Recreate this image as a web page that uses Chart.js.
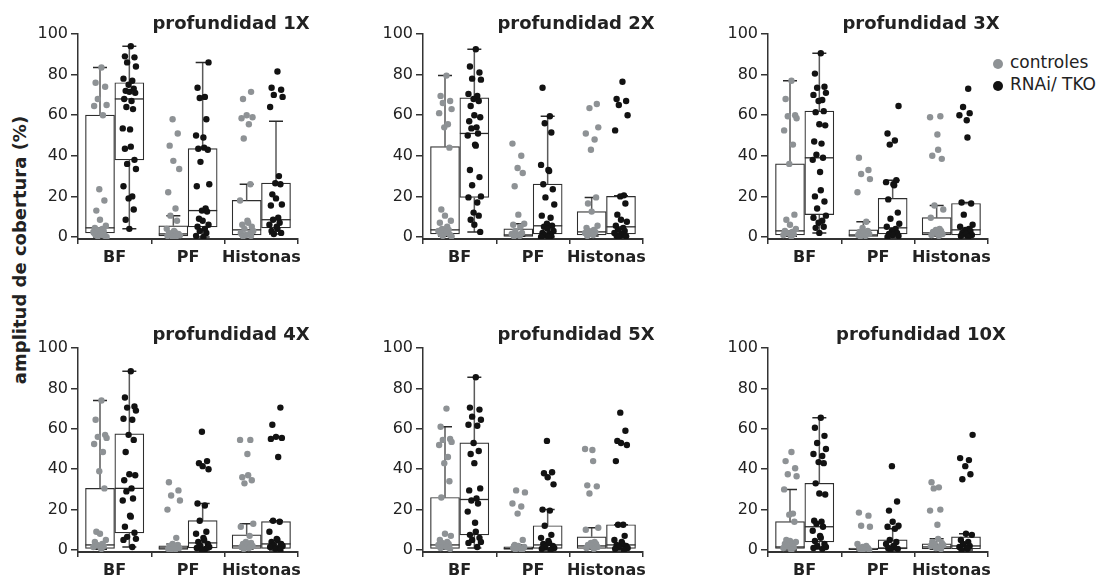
<!DOCTYPE html>
<html>
<head>
<meta charset="utf-8">
<script src="https://cdn.jsdelivr.net/npm/chart.js@4"></script>
<style>
  body { margin: 0; background: #fff; width: 1118px; height: 580px; position: relative; overflow: hidden;
         font-family: "DejaVu Sans", sans-serif; color: #222; }
  canvas { position: absolute; }
  .ptitle { position: absolute; font-weight: bold; font-size: 18px; white-space: nowrap; transform: translate(-50%, -50%); }
  #ytitle { position: absolute; left: 19px; top: 250px; font-weight: bold; font-size: 18px; white-space: nowrap;
            transform: translate(-50%, -50%) rotate(-90deg); }
  .legend { position: absolute; left: 993px; font-size: 17px; white-space: nowrap; line-height: 20px; }
  .legend span { display: inline-block; width: 10px; height: 10px; border-radius: 50%; margin-right: 7px; vertical-align: -1px; }
</style>
</head>
<body>
<div id="ytitle">amplitud de cobertura (%)</div>
<div class="legend" style="top:52px"><span style="background:#8e9295"></span>controles</div>
<div class="legend" style="top:74px"><span style="background:#121212"></span>RNAi/ TKO</div>

<script>
// categories and axis
const categories = ['BF', 'PF', 'Histonas'];
const yTicks = [0, 20, 40, 60, 80, 100];
const panelTitles = ['profundidad 1X', 'profundidad 2X', 'profundidad 3X',
                     'profundidad 4X', 'profundidad 5X', 'profundidad 10X'];

// box stats per category: [lower whisker, q1, median, q3, upper whisker]
const ctlBox1 = [[0, 2, 4.5, 60, 83.5], [0, 0.5, 1.5, 5.5, 10.5], [0.3, 1, 3.5, 18, 26]];
const tkoBox1 = [[4, 38, 68, 76, 94], [0, 5, 13, 43.5, 86], [1.5, 4.5, 8.5, 26.5, 57]];
const ctlBox2 = [[0.3, 1.5, 3.5, 44.5, 79.5], [0.3, 0.3, 1, 4, 6.5], [0.5, 1, 2.5, 12.5, 19.5]];
const tkoBox2 = [[2.5, 19.5, 51, 68.5, 92.5], [0, 1.5, 5.5, 26, 59.5], [0, 1.5, 5, 20, 20.3]];
const ctlBox3 = [[0.3, 1, 3, 36, 77], [0.3, 0.3, 1, 3.5, 7.5], [0.5, 1, 2, 9.5, 15.5]];
const tkoBox3 = [[2, 11, 39, 62, 90.5], [0, 1.5, 4.5, 19, 28], [0, 1, 3.5, 16.5, 17]];
const ctlBox4 = [[0.3, 0.8, 2.5, 30.5, 74], [0, 0.3, 1, 2, 3], [0.5, 0.8, 2, 7.5, 13]];
const tkoBox4 = [[1.5, 8.5, 30.5, 57.5, 88.5], [0, 1, 3.5, 14.5, 23], [0, 0.8, 3, 14, 14.5]];
const ctlBox5 = [[0.3, 0.8, 2.5, 26, 61], [0, 0.3, 0.8, 1.5, 2.5], [0.5, 0.8, 2, 6.5, 11]];
const tkoBox5 = [[1, 7.5, 25, 53, 85.5], [0, 0.8, 2.5, 12, 20], [0, 0.8, 2.5, 12.5, 12.5]];
const ctlBox6 = [[0, 0.8, 1.5, 14, 30], [0, 0.2, 0.5, 1, 1.5], [0.3, 0.5, 1.5, 3, 5.5]];
const tkoBox6 = [[0.5, 4, 11.5, 33, 65.5], [0, 0.5, 1, 5, 10.5], [0, 0.5, 2, 6.5, 8]];

// individual samples per category (BF, PF, Histonas)
const ctlPts1 = [
  [83.5, 76, 74, 68, 65, 64.5, 60, 23.5, 18, 13, 8.5, 5.5, 4.5, 4, 3.5, 3, 2.5, 2, 1.5, 1, 0.5, 0.3, 0, 2, 1],
  [58, 51, 45, 37.5, 33.5, 22, 14, 10.5, 8, 4, 3, 2.5, 2, 1.5, 1, 0.8, 0.5, 0.3, 0],
  [71.5, 68, 60, 59, 58.5, 55.5, 48.5, 26, 18, 8, 7, 6, 5, 4, 3, 2, 1.5, 1, 0.5, 0.3]];
const tkoPts1 = [
  [94, 89, 88.5, 86, 84, 78, 77, 75, 73, 72, 71.5, 71, 68, 67, 64, 63, 53.5, 53, 44.5, 43.5, 38, 36, 33.5, 25, 20, 19, 13.5, 8.5, 4],
  [86, 73.5, 69, 68.5, 58, 50, 49, 44, 43.5, 43, 37, 26, 25, 14, 13, 12.5, 9, 8, 6, 5, 4, 3, 2, 0.5, 0],
  [81.5, 73.5, 72.5, 70, 69, 64, 30, 26.5, 26, 21, 19, 16, 15.5, 9.5, 8.5, 7, 6, 5, 4, 3, 2, 1.5]];
const ctlPts2 = [
  [79.5, 69.5, 67, 66, 63, 61, 55.5, 54, 44, 13.5, 10.5, 8, 7, 5, 4, 3.5, 3, 2.5, 2, 1.5, 1, 0.5, 0.3],
  [46, 40, 34, 31.5, 25, 11, 6.5, 6, 5, 3, 2, 1.5, 1, 0.5, 0.3],
  [65.5, 63.5, 54, 51, 48, 43, 19.5, 16.5, 12.5, 5.5, 4.5, 3.5, 3, 2.5, 2, 1.5, 1, 0.5]];
const tkoPts2 = [
  [92.5, 84, 81, 78, 77.5, 70.5, 69.5, 68, 67, 64.5, 60, 59, 57, 54, 53.5, 51, 50, 45.5, 45, 33, 29.5, 25.5, 20, 19.5, 17, 12, 10.5, 8.5, 6, 2.5],
  [73.5, 59.5, 56, 51.5, 35.5, 33, 32.5, 26, 23.5, 19.5, 16, 10.5, 9.5, 6.5, 5.5, 5, 4, 3, 2, 1.5, 1, 0.5, 0, 0],
  [76.5, 68, 67, 65, 60, 52.5, 20.5, 20, 16.5, 11, 8.5, 7.5, 5.5, 4.5, 3.5, 3, 2, 1.5, 1, 0.5, 0.3, 0]];
const ctlPts3 = [
  [77, 68, 60, 59.5, 58.5, 52.5, 45.5, 36, 11, 8.5, 6, 4, 3, 2.5, 2, 1.5, 1, 0.5, 0.3],
  [39, 33, 31, 28.5, 22, 7.5, 4.5, 3, 2.5, 2, 1.5, 1, 0.5, 0.3],
  [59.5, 59, 50.5, 43, 40, 38.5, 15.5, 13.5, 9.5, 4, 3.5, 3, 2.5, 2, 1.5, 1, 0.5]];
const tkoPts3 = [
  [90.5, 80.5, 74, 73.5, 71, 70, 67.5, 67, 62, 61.5, 55.5, 55, 47, 46, 40.5, 39, 38, 32, 23, 20, 17.5, 14, 10.5, 9.5, 8, 7, 5, 4.5, 2],
  [64.5, 51, 47.5, 45.5, 28, 27, 26, 25.5, 18.5, 12, 9, 6.5, 5, 4, 3, 2, 1.5, 1, 0.5, 0],
  [73, 64, 61, 60, 57.5, 49, 17, 16.5, 11, 6, 5, 4, 3.5, 3, 2, 1.5, 1, 0.5, 0]];
const ctlPts4 = [
  [74, 64.5, 57, 56, 55.5, 52.5, 48.5, 39, 30.5, 9, 8, 5, 4, 3, 2.5, 2, 1.5, 1, 0.5],
  [33.5, 29.5, 27, 24.5, 20, 6, 3, 2.5, 2, 1.5, 1, 0.5, 0.3, 0],
  [54.5, 54.5, 47.5, 37, 36, 34.5, 33, 13, 11.5, 7, 4, 3.5, 3, 2.5, 2, 1.5, 1, 0.5]];
const tkoPts4 = [
  [88.5, 75.5, 71, 70.5, 69, 65, 64.5, 57, 54.5, 48.5, 37.5, 37, 34.5, 30.5, 29, 25.5, 24.5, 17, 16.5, 11.5, 8.5, 6.5, 5.5, 5, 1.5],
  [58.5, 44, 43, 41.5, 40, 23, 22, 14.5, 9, 8, 6, 5, 4, 3, 2, 1.5, 1, 0.5, 0],
  [70.5, 62, 56, 55.5, 55, 46, 14.5, 14, 9, 5.5, 5, 4, 3, 2.5, 2, 1.5, 1, 0.5, 0]];
const ctlPts5 = [
  [70, 61, 55, 54.5, 53.5, 52, 46, 43, 34, 26, 8, 7, 5, 4, 3.5, 3, 2.5, 2, 1.5, 1, 0.5],
  [29.5, 28.5, 23, 21.5, 18, 5, 2.5, 2, 1.5, 1, 0.5, 0.3, 0],
  [50, 49.5, 44, 32, 31.5, 28, 11, 10, 4, 3.5, 3, 2.5, 2, 1.5, 1, 0.5]];
const tkoPts5 = [
  [85.5, 70.5, 69.5, 66, 64.5, 62, 61.5, 53, 49, 47.5, 43, 30.5, 29.5, 25.5, 24.5, 23, 19, 13.5, 9, 7.5, 6, 5, 4, 3.5, 1.5],
  [54, 38.5, 38, 36, 32.5, 20, 19.5, 12, 7.5, 6, 4.5, 3.5, 3, 2, 1.5, 1, 0.5, 0],
  [68, 59, 54, 53, 52, 44, 12.5, 12.5, 7, 5, 4, 3, 2.5, 2, 1.5, 1, 0.5, 0]];
const ctlPts6 = [
  [48.5, 44, 40.5, 37.5, 36.5, 30, 18, 17.5, 14, 5, 4.5, 4, 3, 2.5, 2, 1.5, 1, 0.5, 0],
  [18.5, 17, 12, 11.5, 3, 2, 1.5, 1, 0.5, 0.3, 0],
  [33.5, 31, 30.5, 20, 19.5, 12.5, 5.5, 4, 3.5, 3, 2.5, 2, 1.5, 1, 0.5]];
const tkoPts6 = [
  [65.5, 60.5, 56.5, 53, 50, 47.5, 46.5, 43.5, 43, 33, 28, 27.5, 14.5, 14, 13, 11.5, 9.5, 7, 6, 4.5, 3, 2, 1.5, 1, 0.5],
  [41.5, 24, 19.5, 14, 12, 11.5, 10.5, 5, 4, 3, 2, 1.5, 1, 0.5, 0],
  [57, 45.5, 44.5, 41.5, 37.5, 35, 8, 7.5, 5, 4, 3, 2, 1.5, 1, 0.5, 0]];

// styling
const GREY = '#8e9295';
const BLACK = '#121212';
const FONT = 'DejaVu Sans';
const SHIFT = 0.2;      // box offset from the category centre, in category widths
// horizontal spread of the dots (in category widths), repeated
const spread = [0.02, -0.06, 0.07, -0.03, 0.09, -0.08, 0.04, -0.01, 0.06, -0.05, 0.0, 0.08, -0.07, 0.03, -0.04, 0.05, -0.09, 0.01];

const panels = [
  { title: panelTitles[0], ctlBox: ctlBox1, tkoBox: tkoBox1, ctlPts: ctlPts1, tkoPts: tkoPts1 },
  { title: panelTitles[1], ctlBox: ctlBox2, tkoBox: tkoBox2, ctlPts: ctlPts2, tkoPts: tkoPts2 },
  { title: panelTitles[2], ctlBox: ctlBox3, tkoBox: tkoBox3, ctlPts: ctlPts3, tkoPts: tkoPts3 },
  { title: panelTitles[3], ctlBox: ctlBox4, tkoBox: tkoBox4, ctlPts: ctlPts4, tkoPts: tkoPts4 },
  { title: panelTitles[4], ctlBox: ctlBox5, tkoBox: tkoBox5, ctlPts: ctlPts5, tkoPts: tkoPts5 },
  { title: panelTitles[5], ctlBox: ctlBox6, tkoBox: tkoBox6, ctlPts: ctlPts6, tkoPts: tkoPts6 }
];

// medians and whiskers on top of each box
const whiskerPlugin = {
  id: 'whiskers',
  afterDatasetDraw(chart, args) {
    const ds = chart.data.datasets[args.index];
    if (!ds.stats) return;
    const ctx = chart.ctx;
    const y = chart.scales.y;
    ctx.save();
    args.meta.data.forEach((bar, i) => {
      const [lo, q1, med, q3, hi] = ds.stats[i];
      const x = bar.x, half = bar.width / 2;
      ctx.lineWidth = 1.5;
      ctx.strokeStyle = '#5a5a5a';
      ctx.beginPath();
      ctx.moveTo(x, y.getPixelForValue(q3)); ctx.lineTo(x, y.getPixelForValue(hi));
      ctx.moveTo(x, y.getPixelForValue(q1)); ctx.lineTo(x, y.getPixelForValue(lo));
      ctx.stroke();
      ctx.strokeStyle = '#2a2a2a';
      ctx.beginPath();
      ctx.moveTo(x - 7, y.getPixelForValue(hi)); ctx.lineTo(x + 7, y.getPixelForValue(hi));
      ctx.moveTo(x - 7, y.getPixelForValue(lo)); ctx.lineTo(x + 7, y.getPixelForValue(lo));
      ctx.stroke();
      ctx.lineWidth = 1.3;
      ctx.beginPath();
      ctx.moveTo(x - half, y.getPixelForValue(med)); ctx.lineTo(x + half, y.getPixelForValue(med));
      ctx.stroke();
    });
    ctx.restore();
  }
};

function boxes(stats, shift) {
  return stats.map((s, c) => ({ x: c + shift, y: [s[1], s[3]] }));
}

function dots(ptsByCat, shift) {
  const out = [];
  let k = 0;
  ptsByCat.forEach((vals, c) => {
    vals.forEach(v => {
      out.push({ x: c + shift + spread[k % spread.length], y: v });
      k++;
    });
  });
  return out;
}

function makePanel(p, idx) {
  const row = Math.floor(idx / 3), col = idx % 3;
  const left = col * 345;
  const top = row === 0 ? 0 : 290;
  const h = row === 0 ? 280 : 290;
  const padTop = row === 0 ? 34 : 58;
  const xHeight = row === 0 ? 41 : 28;

  const cv = document.createElement('canvas');
  cv.width = 308; cv.height = h;
  cv.style.left = left + 'px'; cv.style.top = top + 'px';
  document.body.appendChild(cv);

  const t = document.createElement('div');
  t.className = 'ptitle';
  t.textContent = p.title;
  t.style.left = (left + 231) + 'px';
  t.style.top = (row === 0 ? 22 : 333) + 'px';
  document.body.appendChild(t);

  const boxStyle = { backgroundColor: '#fff', borderColor: '#2e2e2e', borderWidth: 1.2, borderSkipped: false,
                     barThickness: 29, grouped: false, order: 3 };

  new Chart(cv.getContext('2d'), {
    type: 'bar',
    data: {
      datasets: [
        Object.assign({ label: 'controles', data: boxes(p.ctlBox, -SHIFT), stats: p.ctlBox }, boxStyle),
        Object.assign({ label: 'RNAi/ TKO', data: boxes(p.tkoBox, SHIFT), stats: p.tkoBox }, boxStyle),
        { type: 'scatter', label: 'controles', data: dots(p.ctlPts, -SHIFT),
          backgroundColor: GREY, borderWidth: 0, pointRadius: 3.2, order: 1 },
        { type: 'scatter', label: 'RNAi/ TKO', data: dots(p.tkoPts, SHIFT),
          backgroundColor: BLACK, borderWidth: 0, pointRadius: 3.2, order: 1 }
      ]
    },
    options: {
      responsive: false,
      animation: false,
      layout: { padding: { top: padTop, right: 10, left: 0, bottom: 0 } },
      plugins: { legend: { display: false }, tooltip: { enabled: false } },
      scales: {
        x: {
          type: 'linear', min: -0.5, max: 2.5, offset: false,
          afterBuildTicks(s) { s.ticks = categories.map((c, i) => ({ value: i })); },
          grid: { drawOnChartArea: false, drawTicks: true, tickLength: 5, color: '#333', lineWidth: 1.5 },
          border: { color: '#333', width: 2 },
          ticks: { font: { family: FONT, size: 16, weight: 'bold' }, color: '#222', padding: 4, maxRotation: 0,
                   autoSkip: false, callback: v => categories[v] },
          afterFit(s) { s.height = xHeight; }
        },
        y: {
          min: -1, max: 100,
          afterBuildTicks(s) { s.ticks = yTicks.map(v => ({ value: v })); },
          grid: { drawOnChartArea: false, tickLength: 7, color: '#333', lineWidth: 1.5 },
          border: { color: '#333', width: 1.5 },
          ticks: { font: { family: FONT, size: 16 }, color: '#222', padding: 3 },
          afterFit(s) { s.width = 78; }
        }
      }
    },
    plugins: [whiskerPlugin]
  });
}

panels.forEach(makePanel);
</script>
</body>
</html>
